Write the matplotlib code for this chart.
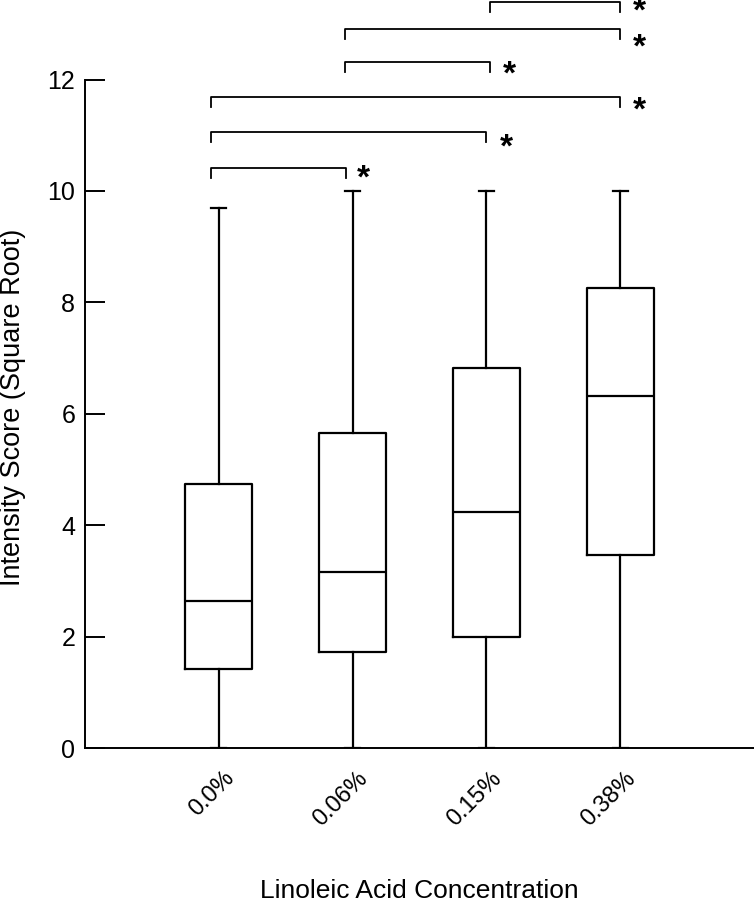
import matplotlib
matplotlib.use("Agg")
import matplotlib.pyplot as plt
import matplotlib.transforms as mtransforms

plt.rcParams['font.family'] = ['Liberation Sans', 'DejaVu Sans']

# box summaries (square-root intensity score)
groups = ['0.0%', '0.06%', '0.15%', '0.38%']
whislo = [0.0, 0.0, 0.0, 0.0]
q1 = [1.41, 1.73, 2.00, 3.46]
med = [2.64, 3.16, 4.23, 6.32]
q3 = [4.74, 5.66, 6.83, 8.25]
whishi = [9.70, 10.0, 10.0, 10.0]

# significance brackets: pairs, bracket height, start/end x, star spot
pairs = [(0, 1), (0, 2), (0, 3), (1, 2), (1, 3), (2, 3)]
bracket_y = [10.42, 11.05, 11.68, 12.32, 12.90, 13.40]
bracket_x0 = [-0.06, -0.06, -0.06, 0.945, 0.945, 2.03]
bracket_x1 = [0.95, 2.0, 3.0, 2.03, 3.0, 3.0]
star_x = [1.08, 2.15, 3.14, 2.17, 3.14, 3.14]
star_y = [10.33, 10.88, 11.54, 12.19, 12.68, 13.32]

fig = plt.figure(figsize=(7.54, 9.15), dpi=100)
ax = fig.add_axes([85/754, 167/915, 1 - 85/754, 668.5/915])

stats = []
for i in range(len(groups)):
    stats.append({'whislo': whislo[i], 'q1': q1[i], 'med': med[i],
                  'q3': q3[i], 'whishi': whishi[i], 'fliers': [], 'label': groups[i]})

lw = 1.6
ax.bxp(stats, positions=range(len(groups)), widths=0.5, capwidths=0.11,
       showfliers=False, manage_ticks=False,
       boxprops=dict(color='black', linewidth=lw),
       medianprops=dict(color='black', linewidth=lw),
       whiskerprops=dict(color='black', linewidth=lw),
       capprops=dict(color='black', linewidth=lw))

leg = 0.18
for k, (i, j) in enumerate(pairs):
    y = bracket_y[k]
    x0, x1 = bracket_x0[k], bracket_x1[k]
    ax.plot([x0, x0, x1, x1], [y - leg, y, y, y - leg], color='black',
            linewidth=1.3, clip_on=False, solid_joinstyle='round')
    # baseline sits ~10pt under the glyph centre at this size
    ax.annotate('*', (star_x[k], star_y[k]), xytext=(0, -10.5), textcoords='offset points',
                fontsize=24, fontweight='bold', ha='center', va='baseline',
                annotation_clip=False)

ax.set_xlim(-1, 4)
ax.set_ylim(0, 12)
ax.set_yticks(range(0, 13, 2))
ax.set_xticks(range(len(groups)))

ax.tick_params(axis='y', direction='in', length=14.4, width=1.4, labelsize=18, pad=7)
ax.tick_params(axis='x', length=0, labelsize=17, pad=0)

ax.set_xticklabels(groups, rotation=45, ha='right', rotation_mode='anchor', va='center')
for lab in ax.get_xticklabels():
    lab.set_transform(lab.get_transform() + mtransforms.ScaledTranslation(0.12, -0.27, fig.dpi_scale_trans))

for s in ['top', 'right']:
    ax.spines[s].set_visible(False)
for s in ['left', 'bottom']:
    ax.spines[s].set_linewidth(1.4)

ax.set_xlabel('Linoleic Acid Concentration', fontsize=19)
ax.xaxis.set_label_coords(0.5 - 0.0, -(879 - 748) / 668.5)
ax.set_ylabel('Intensity Score (Square Root)', fontsize=19.5)
ax.yaxis.set_label_coords(-(85 - 26) / 669, 0.5 - (407 - 413.75) / 668.5)

fig.savefig('out.png', dpi=100)
